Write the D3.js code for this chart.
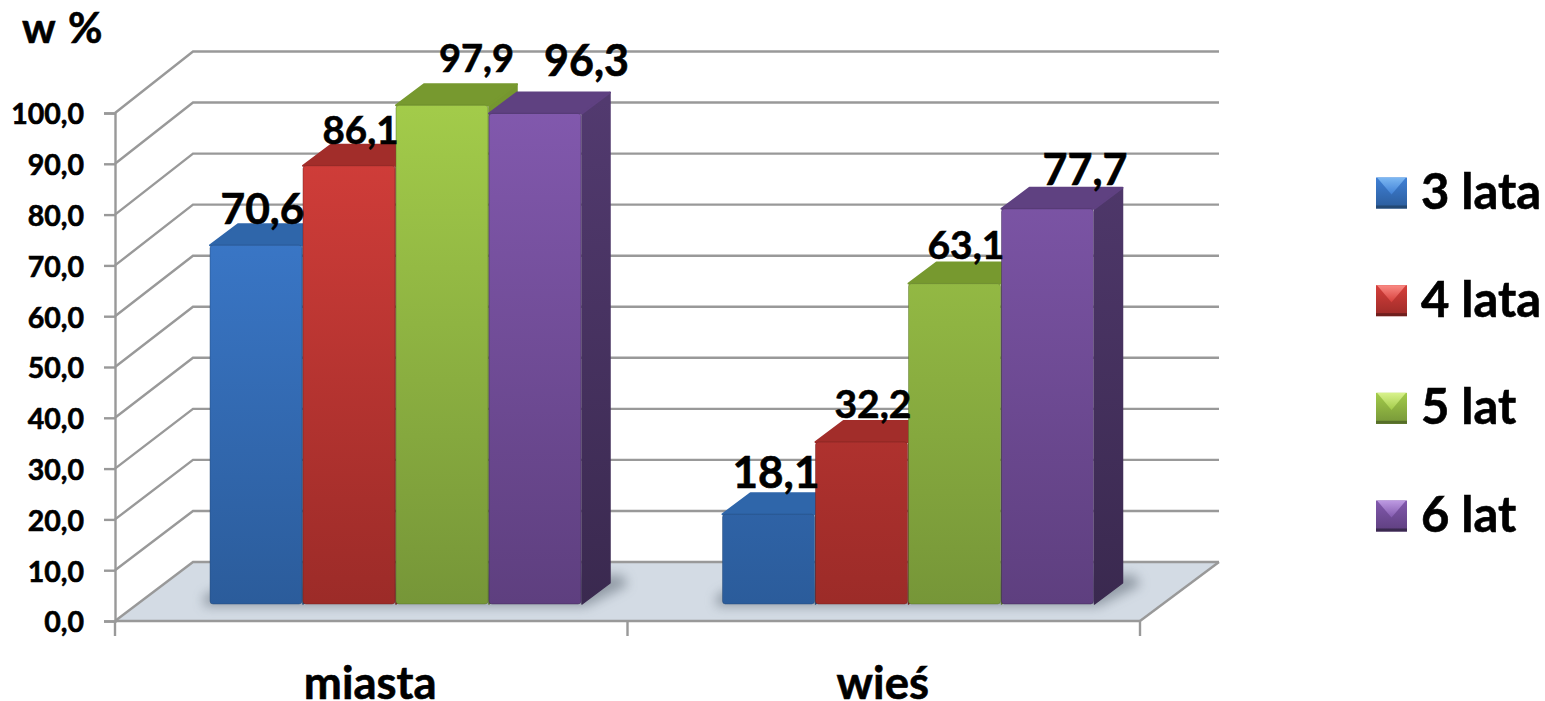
<!DOCTYPE html>
<html>
<head>
<meta charset="utf-8">
<script src="https://cdnjs.cloudflare.com/ajax/libs/d3/7.8.5/d3.min.js"></script>
<style>
  html, body { margin: 0; padding: 0; background: #fff; overflow: hidden; }
  text { font-family: Lato, "Noto Sans", sans-serif; font-weight: 700; fill: #000; stroke: #000; stroke-width: 0.6px; }
</style>
</head>
<body>
<svg id="chart" width="1545" height="701"></svg>
<script>
// Data
const categories = ["miasta", "wieś"];
const seriesNames = ["3 lata", "4 lata", "5 lat", "6 lat"];
const miasta = [70.6, 86.1, 97.9, 96.3];
const wies = [18.1, 32.2, 63.1, 77.7];
const yTicks = [0, 10, 20, 30, 40, 50, 60, 70, 80, 90, 100];

// Colours per series: front top, front bottom, roof, side top, side bottom, legend light
const colors = [
  { top: "#3f80d6", bottom: "#2b5c9b", roof: "#2f66aa", sideTop: "#2f5f9e", sideBottom: "#234873", light: "#7db8f2" },
  { top: "#d63f3b", bottom: "#9c2b28", roof: "#a22d2a", sideTop: "#9a2c29", sideBottom: "#6f1f1d", light: "#fa8a84" },
  { top: "#a3cc4a", bottom: "#769638", roof: "#77992f", sideTop: "#75962f", sideBottom: "#566e28", light: "#d8f28c" },
  { top: "#8259ae", bottom: "#5e3f7f", roof: "#5f4181", sideTop: "#523a6f", sideBottom: "#3a294f", light: "#bd9ae2" }
];

// Label size and nudge from the automatic spot, one per bar
const labelSize = [[42.5, 38.5, 38, 43], [44, 39, 39, 43]];
const labelDx = [[6, 11, 34, 51], [7, 11, 11, 37]];
const labelDy = [[-21, -22, -33, -37], [-26, -24, -25, -24]];

// Layout
const width = 1545, height = 701;
const plot = { left: 115, right: 1140, bottom: 621, top: 113 };
const back = { dx: 78, bottom: 562, top: 51.5 };
const barDepth = { dx: 28, dy: -21 };
const grid = "#999999";

const svg = d3.select("#chart");
const defs = svg.append("defs");

const y = d3.scaleLinear().domain([0, 100]).range([plot.bottom, plot.top]);
const yBack = d3.scaleLinear().domain([0, 100]).range([back.bottom, back.top]);
const yBar = d3.scaleLinear().domain([0, 100]).range([607, 94.5]);
const x0 = d3.scaleBand().domain(categories).range([plot.left, plot.right]);
const x1 = d3.scaleBand().domain(seriesNames).range([95, 95 + 372]);
const barBase = 604;

const path = pts => "M" + pts.map(p => p.join(",")).join("L") + "Z";

// Gradients
function vGradient(id, units, y1, y2, c1, c2) {
  const g = defs.append("linearGradient").attr("id", id)
    .attr("gradientUnits", units)
    .attr("x1", 0).attr("x2", 0).attr("y1", y1).attr("y2", y2);
  g.append("stop").attr("offset", 0).attr("stop-color", c1);
  g.append("stop").attr("offset", 1).attr("stop-color", c2);
}
colors.forEach((c, i) => {
  vGradient("front" + i, "userSpaceOnUse", 100, barBase, c.top, c.bottom);
  vGradient("side" + i, "userSpaceOnUse", 100, barBase, c.sideTop, c.sideBottom);
  vGradient("swatch" + i, "objectBoundingBox", 0, 1, c.top, c.bottom);
  vGradient("swatchTop" + i, "objectBoundingBox", 0, 1, c.light, c.top);
});
defs.append("filter").attr("id", "blur")
  .attr("x", "-20%").attr("y", "-50%").attr("width", "140%").attr("height", "200%")
  .append("feGaussianBlur").attr("stdDeviation", 6);

// Floor
svg.append("path")
  .attr("d", path([
    [plot.left, plot.bottom],
    [plot.left + back.dx, back.bottom],
    [plot.right + back.dx + 1, back.bottom],
    [plot.right, plot.bottom]
  ]))
  .attr("fill", "#d3dbe4");

// Gridlines: slanted left wall part and back wall part
const gridG = svg.append("g").attr("fill", "none").attr("stroke", grid).attr("stroke-width", 2.4);
gridG.selectAll("path.wall")
  .data(yTicks)
  .join("path")
  .attr("class", "wall")
  .attr("d", d => `M${plot.left},${y(d)}L${plot.left + back.dx},${yBack(d)}L${plot.right + back.dx + 1},${yBack(d)}`);
gridG.append("path")
  .attr("d", `M${plot.right + back.dx + 1},${back.bottom}L${plot.right},${plot.bottom}`);

// Floor shadows
categories.forEach(cat => {
  const gx = x0(cat);
  const xa = gx + x1.range()[0], xb = gx + x1.range()[1];
  svg.append("path")
    .attr("d", path([
      [xa - 6, barBase + 2],
      [xb + 4, barBase + 2],
      [xb + barDepth.dx + 18, barBase + barDepth.dy + 2],
      [xb + barDepth.dx + 12, barBase + barDepth.dy - 8],
      [xa + 10, barBase - 16],
      [xa - 6, barBase - 8]
    ]))
    .attr("fill", "#5b6672")
    .attr("opacity", 0.55)
    .attr("filter", "url(#blur)");
});

// Axes
const yAxis = d3.axisLeft(y)
  .tickValues(yTicks)
  .tickFormat(d => d3.format(".1f")(d).replace(".", ","))
  .tickSize(11);
const yAxisG = svg.append("g").attr("transform", `translate(${plot.left},0)`).call(yAxis);
yAxisG.select(".domain").attr("stroke", grid).attr("stroke-width", 2.4);
yAxisG.selectAll(".tick line").attr("stroke", grid).attr("stroke-width", 2.4);
yAxisG.selectAll(".tick text")
  .attr("font-size", 28.5)
  .style("font-family", "Lato, sans-serif")
  .attr("x", -31)
  .attr("dy", "0.38em");

const xAxis = svg.append("g");
xAxis.append("line")
  .attr("x1", plot.left).attr("x2", plot.right)
  .attr("y1", plot.bottom).attr("y2", plot.bottom)
  .attr("stroke", grid).attr("stroke-width", 2.4);
xAxis.selectAll("line.tick")
  .data([plot.left, x0(categories[1]), plot.right])
  .join("line")
  .attr("class", "tick")
  .attr("x1", d => d).attr("x2", d => d)
  .attr("y1", plot.bottom).attr("y2", plot.bottom + 15)
  .attr("stroke", grid).attr("stroke-width", 2.4);
xAxis.selectAll("text")
  .data(categories)
  .join("text")
  .attr("x", d => x0(d) + x0.bandwidth() / 2 - 1)
  .attr("y", 699)
  .attr("text-anchor", "middle")
  .attr("font-size", 45.5)
  .text(d => d);

// Bars
const rows = [miasta, wies];
const barsG = svg.append("g");
rows.forEach((row, k) => {
  row.forEach((v, i) => {
    const name = seriesNames[i];
    const xl = x0(categories[k]) + x1(name);
    const xr = xl + x1.bandwidth();
    const yt = yBar(v);
    const g = barsG.append("g");
    g.append("path") // side
      .attr("d", path([
        [xr, yt], [xr + barDepth.dx, yt + barDepth.dy],
        [xr + barDepth.dx, barBase + barDepth.dy], [xr, barBase]
      ]))
      .attr("fill", `url(#side${i})`)
      .attr("stroke", `url(#side${i})`)
      .attr("stroke-width", 1.5)
      .attr("stroke-linejoin", "round");
    g.append("path") // roof
      .attr("d", path([
        [xl, yt], [xl + barDepth.dx, yt + barDepth.dy],
        [xr + barDepth.dx, yt + barDepth.dy], [xr, yt]
      ]))
      .attr("fill", colors[i].roof)
      .attr("stroke", colors[i].roof)
      .attr("stroke-width", 2)
      .attr("stroke-linejoin", "round");
    g.append("rect") // front
      .attr("x", xl).attr("y", yt)
      .attr("width", xr - xl - 1).attr("height", barBase - yt)
      .attr("rx", 3)
      .attr("fill", `url(#front${i})`)
      .attr("stroke", colors[i].sideBottom)
      .attr("stroke-opacity", 0.45)
      .attr("stroke-width", 1);
  });
});

// Value labels
rows.forEach((row, k) => {
  row.forEach((v, i) => {
    const name = seriesNames[i];
    svg.append("text")
      .attr("x", x0(categories[k]) + x1(name) + x1.bandwidth() / 2 + labelDx[k][i])
      .attr("y", yBar(v) + labelDy[k][i])
      .attr("text-anchor", "middle")
      .attr("font-size", labelSize[k][i])
      .text(d3.format(".1f")(v).replace(".", ","));
  });
});

// Axis title
svg.append("text").attr("x", 22).attr("y", 43).attr("font-size", 42)
  .attr("word-spacing", 3).text("w %");

// Legend
const legendY = d3.scalePoint().domain(seriesNames).range([193, 516]);
const sw = 31;
const legend = svg.append("g").selectAll("g")
  .data(seriesNames)
  .join("g")
  .attr("transform", d => `translate(1376,${legendY(d) - sw / 2})`);
legend.append("rect").attr("width", sw).attr("height", sw).attr("fill", (d, i) => `url(#swatch${i})`);
legend.append("path")
  .attr("d", path([[1, 0], [sw - 1, 0], [sw / 2, sw * 0.55]]))
  .attr("fill", (d, i) => `url(#swatchTop${i})`);
legend.append("rect")
  .attr("y", sw - 3).attr("width", sw).attr("height", 3)
  .attr("fill", (d, i) => colors[i].sideBottom);
legend.append("text")
  .attr("x", 45).attr("y", sw / 2 + 16)
  .attr("font-size", 49)
  .text(d => d);
</script>
</body>
</html>
